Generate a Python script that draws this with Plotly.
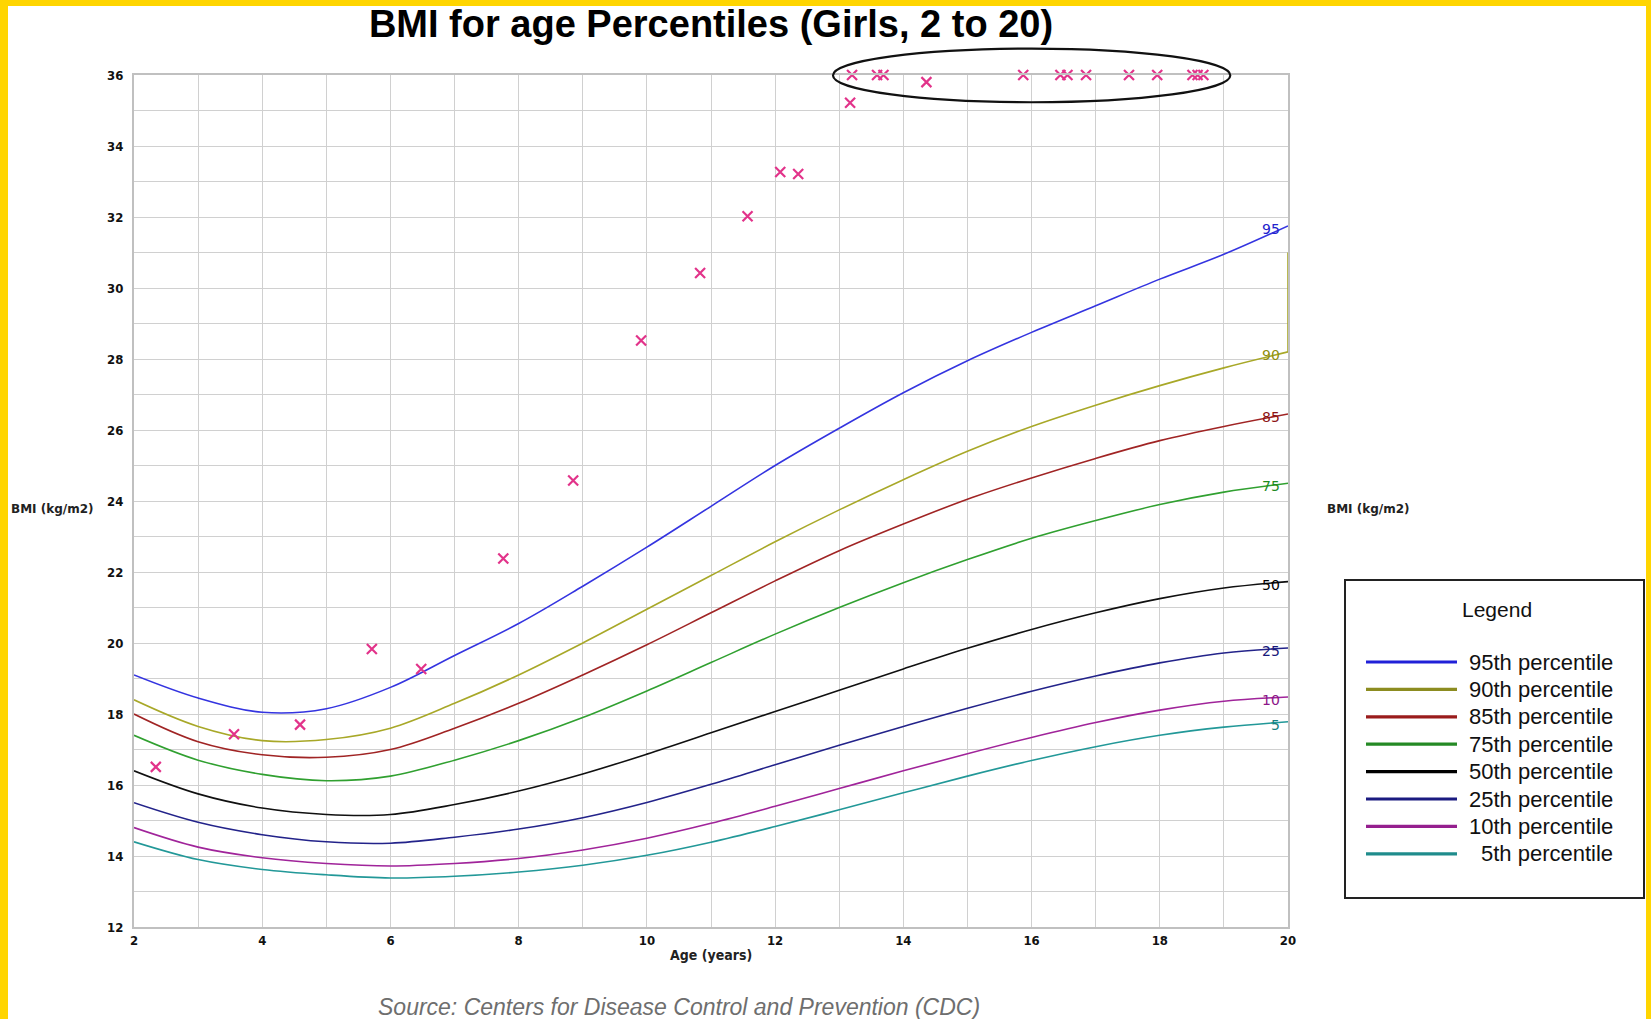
import plotly.graph_objects as go

# ---------------- data ----------------
ages = [2, 3, 4, 5, 6, 7, 8, 9, 10, 11, 12, 13, 14, 15, 16, 17, 18, 19, 20]
p95 = [19.1, 18.45, 18.05, 18.15, 18.75, 19.65, 20.55, 21.6, 22.7, 23.85, 25.0, 26.05, 27.05, 27.95, 28.75, 29.5, 30.25, 30.95, 31.75]
p90 = [18.4, 17.65, 17.25, 17.28, 17.6, 18.3, 19.1, 20.0, 20.95, 21.9, 22.85, 23.75, 24.6, 25.4, 26.1, 26.7, 27.25, 27.75, 28.2]
p85 = [18.0, 17.22, 16.85, 16.78, 17.0, 17.6, 18.3, 19.1, 19.95, 20.85, 21.75, 22.6, 23.35, 24.05, 24.65, 25.2, 25.7, 26.1, 26.45]
p75 = [17.4, 16.7, 16.3, 16.12, 16.25, 16.7, 17.25, 17.9, 18.65, 19.45, 20.25, 21.0, 21.7, 22.35, 22.95, 23.45, 23.9, 24.25, 24.5]
p50 = [16.4, 15.75, 15.35, 15.17, 15.17, 15.45, 15.83, 16.31, 16.87, 17.47, 18.07, 18.67, 19.27, 19.85, 20.38, 20.85, 21.25, 21.55, 21.73]
p25 = [15.5, 14.95, 14.6, 14.4, 14.36, 14.53, 14.76, 15.08, 15.51, 16.02, 16.57, 17.12, 17.65, 18.16, 18.64, 19.07, 19.44, 19.72, 19.86]
p10 = [14.8, 14.25, 13.95, 13.79, 13.72, 13.79, 13.93, 14.17, 14.5, 14.92, 15.4, 15.9, 16.4, 16.88, 17.34, 17.76, 18.11, 18.36, 18.48]
p5 = [14.4, 13.9, 13.62, 13.47, 13.38, 13.43, 13.55, 13.74, 14.02, 14.39, 14.83, 15.3, 15.78, 16.25, 16.69, 17.08, 17.4, 17.63, 17.78]

# vertical artefact of the 90th curve at age 20
p90_tail_age = [20, 20]
p90_tail_bmi = [28.2, 31.0]

# patient measurements
patient_age = [2.34, 3.56, 4.59, 5.71, 6.48, 7.76, 8.85, 9.91, 10.83, 11.57, 12.08, 12.36,
               13.17, 13.20, 13.59, 13.69, 14.36, 15.87, 16.45, 16.56, 16.85, 17.52, 17.96,
               18.51, 18.59, 18.68]
patient_bmi = [16.51, 17.43, 17.70, 19.83, 19.27, 22.38, 24.58, 28.52, 30.42, 32.02, 33.27, 33.21,
               35.22, 36.0, 36.0, 36.0, 35.8, 36.0, 36.0, 36.0, 36.0, 36.0, 36.0,
               36.0, 36.0, 36.0]

series_names = ["95th percentile", "90th percentile", "85th percentile", "75th percentile",
                "50th percentile", "25th percentile", "10th percentile", "5th percentile"]
series_labels = ["95", "90", "85", "75", "50", "25", "10", "5"]
series_values = [p95, p90, p85, p75, p50, p25, p10, p5]
series_colors = ["#3434e0", "#a8a828", "#a02424", "#30a030", "#101010", "#23238a", "#a0249a", "#229898"]
label_colors = ["#2222cc", "#8f8f10", "#8c1414", "#1f8a1f", "#000000", "#18187a", "#8c1688", "#158080"]
legend_colors = ["#2020d8", "#8c8c20", "#9a1c1c", "#258a25", "#000000", "#1a1a80", "#951f8e", "#1f8c8c"]

x_ticks = [2, 4, 6, 8, 10, 12, 14, 16, 18, 20]
y_ticks = [12, 14, 16, 18, 20, 22, 24, 26, 28, 30, 32, 34, 36]

# ---------------- layout helpers (pixel placement) ----------------
W, H = 1651, 1019
ML, MR, MT, MB = 134, 363, 75, 92
PW, PH = W - ML - MR, H - MT - MB


def px(xp):
    return (xp - ML) / PW


def py(yp):
    return (H - MB - yp) / PH


fig = go.Figure()

for name, vals, col in zip(series_names, series_values, series_colors):
    fig.add_trace(go.Scatter(x=ages, y=vals, mode="lines", name=name,
                             line=dict(color=col, width=1.6, shape="spline", smoothing=1.0),
                             showlegend=False, hoverinfo="x+y+name"))

fig.add_trace(go.Scatter(x=p90_tail_age, y=p90_tail_bmi, mode="lines",
                         line=dict(color=series_colors[1], width=1.6),
                         showlegend=False, hoverinfo="skip"))

fig.add_trace(go.Scatter(x=patient_age, y=patient_bmi, mode="markers", name="BMI",
                         marker=dict(symbol="x-thin", size=10, line=dict(color="#e2338a", width=2.2)),
                         cliponaxis=False, showlegend=False))

annotations = []
# curve end labels
for lab, vals, col in zip(series_labels, series_values, label_colors):
    annotations.append(dict(x=19.9, y=vals[-1], xref="x", yref="y", text=lab, showarrow=False,
                            xanchor="right", yanchor="middle", yshift=-3,
                            font=dict(family="DejaVu Sans", size=14, color=col)))

# axis titles
annotations.append(dict(x=px(52), y=py(509), xref="paper", yref="paper", text="BMI (kg/m2)",
                        showarrow=False, xanchor="center", yanchor="middle",
                        font=dict(family="DejaVu Sans", size=12, color="#222222", weight="bold")))
annotations.append(dict(x=px(1368), y=py(509), xref="paper", yref="paper", text="BMI (kg/m2)",
                        showarrow=False, xanchor="center", yanchor="middle",
                        font=dict(family="DejaVu Sans", size=12, color="#222222", weight="bold")))
annotations.append(dict(x=0.5, y=py(955), xref="paper", yref="paper", text="Age (years)",
                        showarrow=False, xanchor="center", yanchor="middle",
                        font=dict(family="Liberation Sans Narrow, DejaVu Sans Condensed, sans-serif",
                                  size=14, color="#222222", weight="bold")))
# source
annotations.append(dict(x=px(679), y=py(1007), xref="paper", yref="paper",
                        text="<i>Source: Centers for Disease Control and Prevention (CDC)</i>",
                        showarrow=False, xanchor="center", yanchor="middle",
                        font=dict(family="Liberation Sans, Arial, sans-serif", size=23, color="#6e6e6e")))

# custom legend
shapes = []
shapes.append(dict(type="rect", xref="paper", yref="paper", x0=px(1345), x1=px(1644), y0=py(580), y1=py(898),
                   line=dict(color="#222222", width=2), fillcolor="white", layer="above"))
annotations.append(dict(x=px(1497), y=py(609), xref="paper", yref="paper", text="Legend", showarrow=False,
                        xanchor="center", yanchor="middle",
                        font=dict(family="Liberation Sans, Arial, sans-serif", size=21, color="#111111")))
row0, row_step = 662, 27.4
for i, (name, col) in enumerate(zip(series_names, legend_colors)):
    yy = row0 + i * row_step
    shapes.append(dict(type="line", xref="paper", yref="paper", x0=px(1366), x1=px(1457), y0=py(yy), y1=py(yy),
                       line=dict(color=col, width=3.2), layer="above"))
    annotations.append(dict(x=px(1615), y=py(yy), xref="paper", yref="paper", text=name, showarrow=False,
                            xanchor="right", yanchor="middle",
                            font=dict(family="Liberation Sans, Arial, sans-serif", size=22, color="#111111")))

# ellipse around capped values
shapes.append(dict(type="circle", xref="x domain", yref="y domain", x0=0.6057, x1=0.950, y0=0.968, y1=1.031,
                   line=dict(color="#111111", width=2.2), layer="above"))

# yellow frame: paper background yellow, white panel
shapes.append(dict(type="rect", xref="paper", yref="paper", x0=px(8), x1=px(1646), y0=py(6), y1=py(H + 5),
                   line=dict(width=0), fillcolor="white", layer="below"))

tick_font = dict(family="Liberation Sans Narrow, DejaVu Sans Condensed, sans-serif", size=13,
                 color="#111111", weight="bold")

fig.update_layout(
    width=W, height=H,
    margin=dict(l=ML, r=MR, t=MT, b=MB),
    paper_bgcolor="#FFD500",
    plot_bgcolor="white",
    title=dict(text="BMI for age Percentiles (Girls, 2 to 20)", x=px(711), xref="paper", xanchor="center",
               y=1 - 24 / H, yanchor="middle",
               font=dict(family="Liberation Sans, Arial, sans-serif", size=38, color="#000000", weight="bold")),
    xaxis=dict(range=[2, 20], tickvals=x_ticks, ticktext=[str(v) for v in x_ticks],
               showgrid=True, gridcolor="#d0d0d0", gridwidth=1,
               minor=dict(dtick=1, showgrid=True, gridcolor="#d0d0d0", gridwidth=1),
               showline=True, linecolor="#c0c0c0", linewidth=2, mirror=True,
               zeroline=False, ticks="", tickfont=tick_font, ticklabelstandoff=0, fixedrange=True),
    yaxis=dict(range=[12, 36], tickvals=y_ticks, ticktext=[str(v) for v in y_ticks],
               showgrid=True, gridcolor="#d0d0d0", gridwidth=1,
               minor=dict(dtick=1, showgrid=True, gridcolor="#d0d0d0", gridwidth=1),
               showline=True, linecolor="#c0c0c0", linewidth=2, mirror=True,
               zeroline=False, ticks="", tickfont=tick_font, ticklabelstandoff=6, fixedrange=True),
    annotations=annotations,
    shapes=shapes,
    showlegend=False,
)

fig.write_html("out.html", config={"displayModeBar": False},
               post_script="document.body.style.margin='0px';document.body.style.overflow='hidden';")
